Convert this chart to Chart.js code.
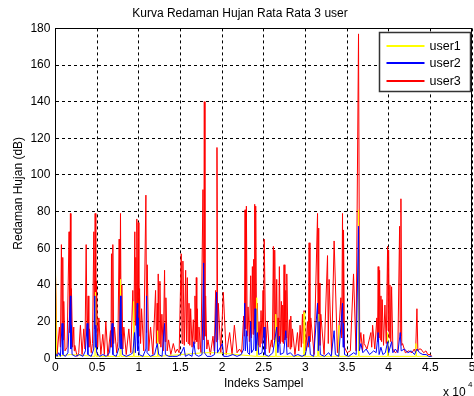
<!DOCTYPE html>
<html>
<head>
<meta charset="utf-8">
<title>Kurva Redaman Hujan</title>
<style>
  html, body { margin: 0; padding: 0; background: #fff; }
  #wrap { width: 474px; height: 396px; }
</style>
</head>
<body>
<div id="wrap"><canvas id="myChart"></canvas></div>
<script src="https://cdn.jsdelivr.net/npm/chart.js"></script>
<script>
// series names / colours (MATLAB default y, b, r)
const seriesNames = ['user1', 'user2', 'user3'];
const seriesColors = ['#ffff00', '#0000ff', '#ff0000'];

// tick positions
const xTicks = [0, 5000, 10000, 15000, 20000, 25000, 30000, 35000, 40000, 45000, 50000];
const yTicks = [0, 20, 40, 60, 80, 100, 120, 140, 160, 180];

// [sample index, attenuation dB]
const user1 = [
    [0,52],[150,1],[1800,2],[4740,1],[4810,36],[4880,1],[7750,1],[7810,43],[7880,1],[9320,1],[9380,31],
    [9450,1],[12200,1],[12260,15],[12330,1],[17870,3],[19390,3],[24100,1],[24160,33],[24230,1],[26380,1],
    [26440,24],[26510,1],[29790,1],[29850,25],[29920,1],[31470,1],[31530,24],[31600,1],[33960,1],[34020,18],
    [34090,1],[36320,1],[36380,81],[36450,1],[39810,1],[39870,14],[39940,1],[43210,1],[43270,8],[43340,1],
    [45160,1]
];

const user2 = [
    [0,3],[200,1],[400,3],[600,1],[800,19],[900,2],[1200,1],[1500,3],[1800,34],[1850,5],[1900,18],[2000,2],
    [2400,1],[2900,2],[3300,1],[3600,4],[3810,19],[3900,2],[4300,1],[4600,5],[4730,34],[4790,6],[4850,18],
    [4950,3],[5300,1],[5700,2],[6100,1],[6500,3],[6810,19],[6900,2],[7300,1],[7650,6],[7810,34],[7870,5],
    [7930,13],[8050,2],[8500,1],[9000,2],[9300,3],[9490,14],[9600,3],[9820,30],[9880,4],[9940,22],[10050,2],
    [10500,1],[10860,5],[10940,34],[11000,3],[11400,1],[11900,2],[12220,8],[12400,2],[12800,1],[13100,19],
    [13200,2],[13600,1],[14100,1],[14600,1],[15000,2],[15420,6],[15600,1],[16000,2],[16400,1],[16620,9],
    [16800,2],[17200,1],[17600,2],[17790,52],[17880,3],[18200,1],[18700,1],[19100,2],[19350,36],[19450,3],
    [20040,8],[20200,1],[20700,1],[21300,2],[21800,1],[22300,2],[22600,5],[22720,30],[22800,4],[22960,15],
    [23080,3],[23300,2],[23440,20],[23540,3],[23800,5],[23960,27],[24050,4],[24240,14],[24400,2],[24800,3],
    [25040,17],[25150,2],[25600,1],[26100,3],[26560,17],[26700,3],[26880,12],[27000,2],[27400,3],[27650,15],
    [27800,2],[28200,3],[28600,1],[29100,2],[29600,1],[30000,2],[30450,12],[30600,2],[31000,1],[31460,30],
    [31550,4],[31650,20],[31800,2],[32300,1],[32800,3],[33100,1],[33450,15],[33600,2],[34000,1],[34460,30],
    [34520,6],[34580,19],[34700,2],[35200,1],[35800,3],[36100,2],[36380,72],[36480,4],[36660,8],[36900,3],
    [37300,5],[37700,2],[38200,4],[38500,3],[38740,14],[38850,2],[39070,6],[39300,2],[39600,3],[39870,9],
    [40000,3],[40350,9],[40500,3],[40800,5],[41100,3],[41390,14],[41500,4],[41900,5],[42300,3],[42700,4],
    [43100,2],[43390,5],[43700,3],[44100,2],[44500,2],[44800,1],[45160,1]
];

const user3 = [
    [0,48],[200,2],[480,17],[600,6],[720,62],[800,12],[880,55],[940,10],[1000,31],[1150,4],[1400,6],[1640,69],
    [1720,14],[1800,79],[1860,12],[1920,38],[2060,6],[2200,17],[2260,4],[2320,7],[2600,1],[2800,3],[3000,18],
    [3200,2],[3400,16],[3550,5],[3690,62],[3800,12],[3930,34],[4010,6],[4090,16],[4300,3],[4450,8],[4610,69],
    [4690,16],[4770,79],[4850,14],[4930,42],[5070,6],[5210,22],[5450,2],[5690,13],[5870,2],[6050,20],[6300,1],
    [6610,15],[6670,6],[6730,57],[6810,12],[6890,62],[6990,8],[7090,17],[7350,3],[7500,9],[7650,65],[7730,14],
    [7810,79],[7890,12],[7970,40],[8090,5],[8210,17],[8500,2],[8810,16],[9050,3],[9290,37],[9410,10],[9530,69],
    [9590,18],[9650,55],[9710,20],[9770,76],[9850,22],[9940,74],[10020,12],[10100,38],[10220,8],[10340,27],
    [10600,4],[10860,89],[10940,14],[11020,51],[11200,4],[11420,17],[11700,2],[12020,37],[12120,8],[12220,30],
    [12280,9],[12340,46],[12440,8],[12540,42],[12660,6],[12780,24],[12940,4],[13100,48],[13180,9],[13260,33],
    [13420,4],[13580,10],[13850,2],[14150,8],[14400,3],[14630,5],[14850,3],[15100,57],[15200,8],[15300,53],
    [15470,7],[15630,48],[15730,9],[15830,44],[15930,8],[16030,30],[16130,7],[16230,27],[16400,6],[16550,21],
    [16650,8],[16750,34],[16830,10],[16910,44],[16970,9],[17030,27],[17130,5],[17230,17],[17470,3],[17710,92],
    [17790,10],[17870,140],[17950,12],[18030,34],[18170,5],[18310,10],[18600,2],[18910,12],[19070,4],[19230,37],
    [19310,9],[19390,115],[19470,10],[19550,30],[19850,3],[20150,36],[20500,2],[20910,14],[21200,2],[21480,18],
    [21800,3],[22100,5],[22350,3],[22600,23],[22680,12],[22760,81],[22840,16],[22920,83],[23020,12],[23120,28],
    [23280,9],[23440,45],[23540,11],[23640,50],[23720,13],[23800,54],[23860,16],[23920,84],[23980,18],[24040,83],
    [24140,12],[24240,30],[24340,7],[24440,20],[24560,6],[24680,26],[24800,8],[24920,37],[24990,12],[25060,65],
    [25250,5],[25440,20],[25680,3],[25920,10],[26040,6],[26160,61],[26240,10],[26320,59],[26440,9],[26560,43],
    [26640,8],[26720,22],[26800,9],[26880,50],[27000,8],[27120,31],[27200,9],[27280,29],[27360,8],[27440,51],
    [27540,10],[27650,37],[27710,11],[27770,46],[27930,6],[28090,21],[28170,5],[28250,23],[28350,6],[28450,16],
    [28750,2],[29050,14],[29210,4],[29370,18],[29510,6],[29650,24],[29750,8],[29850,26],[30050,4],[30250,20],
    [30350,6],[30450,63],[30550,9],[30650,22],[31050,2],[31460,79],[31520,15],[31580,71],[31620,13],[31650,41],
    [31750,7],[31850,24],[32250,2],[32660,56],[32750,8],[32850,43],[33150,2],[33450,64],[33850,3],[34260,33],
    [34360,11],[34460,79],[34520,13],[34580,70],[34700,6],[35000,3],[35400,4],[35780,46],[36080,4],[36380,177],
    [36520,8],[36660,14],[36860,4],[37000,13],[37060,8],[37400,5],[37860,14],[37960,6],[38070,18],[38330,5],
    [38580,22],[38660,9],[38740,50],[38820,11],[38910,48],[38990,10],[39070,34],[39150,9],[39220,32],[39380,7],
    [39550,29],[39710,8],[39870,61],[39930,15],[39990,59],[40070,11],[40150,40],[40250,9],[40350,39],[40500,5],
    [40800,3],[41100,4],[41310,72],[41390,12],[41470,87],[41570,7],[41670,8],[42000,3],[42400,4],[42800,3],
    [43070,5],[43230,3],[43390,27],[43500,4],[43650,5],[43870,5],[44200,3],[44470,4],[44700,2],[45000,2],[45160,1]
];

const FONT = "'Liberation Sans', Arial, Helvetica, sans-serif";
Chart.defaults.font.family = FONT;
Chart.defaults.color = '#000';

const toPoints = (arr) => arr.map(p => ({x: p[0], y: p[1]}));

// box round the axes + legend box + the "x 10^4" exponent
const matlabBits = {
    id: 'matlabBits',
    afterDraw(chart) {
        const ctx = chart.ctx;
        const a = chart.chartArea;
        ctx.save();
        ctx.strokeStyle = '#000';
        ctx.lineWidth = 1;
        ctx.setLineDash([]);
        ctx.strokeRect(Math.round(a.left) + 0.5, Math.round(a.top) + 0.5,
            Math.round(a.right - a.left) - 1, Math.round(a.bottom - a.top));

        // legend
        const bw = 91, bh = 59;
        const bx = Math.round(a.right) - bw - 1.5, by = Math.round(a.top) + 4.5;
        ctx.fillStyle = '#fff';
        ctx.fillRect(bx, by, bw, bh);
        ctx.strokeStyle = '#333';
        ctx.lineWidth = 1.5;
        ctx.strokeRect(bx, by, bw, bh);
        ctx.font = '12.5px ' + FONT;
        ctx.textBaseline = 'middle';
        ctx.textAlign = 'left';
        chart.data.datasets.forEach((ds, i) => {
            const yy = Math.round(by + 13 + i * 17.5);
            ctx.strokeStyle = ds.borderColor;
            ctx.lineWidth = 2;
            ctx.beginPath();
            ctx.moveTo(bx + 7, yy);
            ctx.lineTo(bx + 45, yy);
            ctx.stroke();
            ctx.fillStyle = '#000';
            ctx.fillText(ds.label, bx + 50, yy + 1);
        });

        // exponent label
        ctx.fillStyle = '#000';
        ctx.textAlign = 'left';
        ctx.textBaseline = 'alphabetic';
        ctx.font = '12px ' + FONT;
        ctx.fillText('x 10', 443, 396);
        ctx.font = '8px ' + FONT;
        ctx.fillText('4', 468, 387);
        ctx.restore();
    }
};

const datasets = seriesNames.map((name, i) => ({
    label: name,
    data: toPoints([user1, user2, user3][i]),
    borderColor: seriesColors[i],
    backgroundColor: seriesColors[i],
    borderWidth: 1,
    pointRadius: 0,
    tension: 0,
    fill: false,
    order: [1, 0, 2][i]   // blue on top, red underneath
}));

const config = {
    type: 'line',
    data: { datasets: datasets },
    options: {
        responsive: true,
        maintainAspectRatio: false,
        animation: false,
        layout: { padding: { left: 8, right: 2, top: 0, bottom: 5 } },
        plugins: {
            legend: { display: false },
            tooltip: { enabled: false },
            title: {
                display: true,
                text: 'Kurva Redaman Hujan Rata Rata 3 user',
                font: { size: 12, weight: 'normal' },
                color: '#000',
                padding: { top: 6, bottom: 8 }
            }
        },
        scales: {
            x: {
                type: 'linear',
                min: 0,
                max: 50000,
                afterBuildTicks: (scale) => { scale.ticks = xTicks.map(v => ({value: v})); },
                afterFit: (scale) => { scale.paddingRight = 0; },
                ticks: {
                    font: { size: 12 },
                    color: '#000',
                    padding: 2,
                    maxRotation: 0,
                    callback: (v) => String(v / 10000)
                },
                grid: { color: '#000', lineWidth: 1, drawTicks: false },
                border: { display: true, color: '#000', width: 1, dash: [3, 3] },
                title: {
                    display: true,
                    text: 'Indeks Sampel',
                    font: { size: 12 },
                    color: '#000',
                    padding: { top: 0, bottom: 0 }
                }
            },
            y: {
                type: 'linear',
                min: 0,
                max: 180,
                afterBuildTicks: (scale) => { scale.ticks = yTicks.map(v => ({value: v})); },
                ticks: { font: { size: 12 }, color: '#000', padding: 5 },
                grid: { color: '#000', lineWidth: 1, drawTicks: false },
                border: { display: true, color: '#000', width: 1, dash: [3, 3] },
                title: {
                    display: true,
                    text: 'Redaman Hujan (dB)',
                    font: { size: 12 },
                    color: '#000',
                    padding: { top: 3, bottom: 0 }
                }
            }
        }
    },
    plugins: [matlabBits]
};

const myChart = new Chart(document.getElementById('myChart'), config);
</script>
</body>
</html>
